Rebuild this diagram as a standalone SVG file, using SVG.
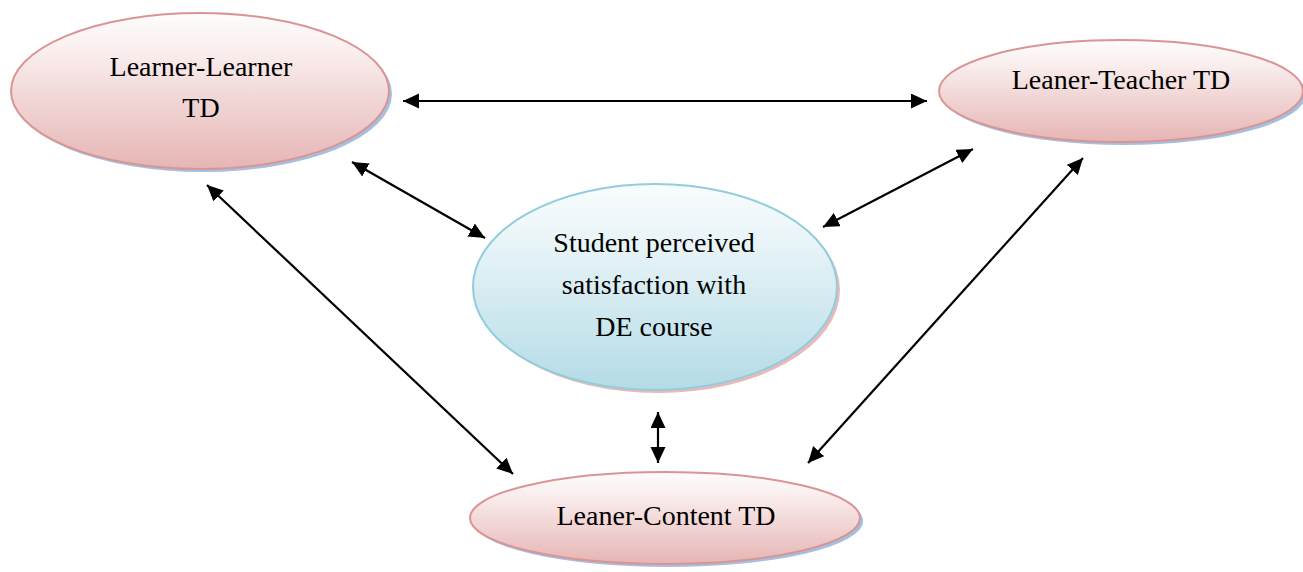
<svg xmlns="http://www.w3.org/2000/svg" width="1303" height="572" viewBox="0 0 1303 572">
<defs>
<linearGradient id="gPink" x1="0" y1="0" x2="0" y2="1">
<stop offset="0" stop-color="#fefcfc"/>
<stop offset="0.2" stop-color="#fbf1f1"/>
<stop offset="1" stop-color="#e5b5b4"/>
</linearGradient>
<linearGradient id="gBlue" x1="0" y1="0" x2="0" y2="1">
<stop offset="0" stop-color="#f8fcfd"/>
<stop offset="0.2" stop-color="#eef7fa"/>
<stop offset="1" stop-color="#b4dbe6"/>
</linearGradient>
<marker id="ah" markerUnits="userSpaceOnUse" markerWidth="18" markerHeight="16" refX="16" refY="7.5" orient="auto-start-reverse">
<path d="M0,0 L16,7.5 L0,15 z" fill="#000"/>
</marker>
<style>
.pink{fill:url(#gPink);stroke:#d99594;stroke-width:2}
.pinkSh{fill:#a4bfe0;}
.blue{fill:url(#gBlue);stroke:#92cddc;stroke-width:2}
.blueSh{fill:#e9b8b8;}
.t{font-family:"Liberation Serif","Times New Roman",serif;font-size:28px;fill:#000;text-anchor:middle}
.c{stroke:#000;stroke-width:2.2;fill:none;marker-start:url(#ah);marker-end:url(#ah)}
</style>
</defs>
<g id="learner-learner">
<ellipse class="pinkSh" cx="203" cy="94" rx="189" ry="78"/>
<ellipse class="pink" cx="200" cy="91" rx="189" ry="78"/>
<text class="t" x="201" y="76">Learner-Learner</text>
<text class="t" x="201" y="117">TD</text>
</g>
<g id="leaner-teacher">
<ellipse class="pinkSh" cx="1124" cy="94" rx="182" ry="51"/>
<ellipse class="pink" cx="1121" cy="91" rx="182" ry="51"/>
<text class="t" x="1121" y="89">Leaner-Teacher TD</text>
</g>
<g id="satisfaction">
<ellipse class="blueSh" cx="658" cy="290" rx="182" ry="103"/>
<ellipse class="blue" cx="655" cy="287" rx="182" ry="103"/>
<text class="t" x="654" y="252">Student perceived</text>
<text class="t" x="654" y="294">satisfaction with</text>
<text class="t" x="654" y="336">DE course</text>
</g>
<g id="leaner-content">
<ellipse class="pinkSh" cx="668" cy="521" rx="195" ry="46"/>
<ellipse class="pink" cx="665" cy="518" rx="195" ry="46"/>
<text class="t" x="666" y="525">Leaner-Content TD</text>
</g>
<g id="connectors">
<line class="c" x1="403" y1="101" x2="927" y2="101"/>
<line class="c" x1="352" y1="162" x2="485" y2="238"/>
<line class="c" x1="823" y1="227" x2="973" y2="149"/>
<line class="c" x1="207" y1="185" x2="513" y2="474"/>
<line class="c" x1="1083" y1="158" x2="808" y2="463"/>
<line class="c" x1="658" y1="412" x2="658" y2="463"/>
</g>
</svg>
